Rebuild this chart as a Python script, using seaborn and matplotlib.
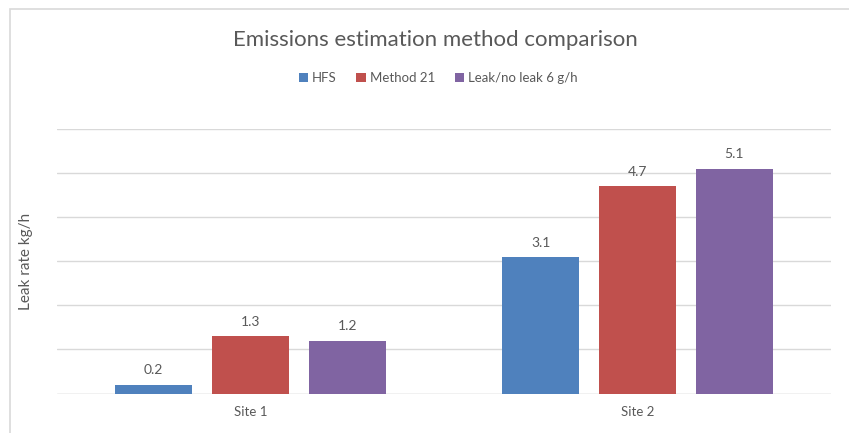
import matplotlib
matplotlib.use("Agg")
import matplotlib.pyplot as plt
import seaborn as sns
import pandas as pd
from matplotlib.patches import Rectangle

# Data
sites = ["Site 1", "Site 2"]
methods = ["HFS", "Method 21", "Leak/no leak 6 g/h"]
hfs = [0.2, 3.1]
method21 = [1.3, 4.7]
leak_no_leak = [1.2, 5.1]
colors = ["#4F81BD", "#C0504D", "#8064A2"]

df = pd.DataFrame({
    "Site": sites * 3,
    "Method": [m for m in methods for _ in sites],
    "Rate": hfs + method21 + leak_no_leak,
})

sns.set_theme(style="white")
plt.rcParams["font.family"] = ["Lato", "DejaVu Sans"]
text_color = "#595959"

fig = plt.figure(figsize=(8.49, 4.33), dpi=100)
ax = fig.add_axes([57 / 849, 1 - 393.5 / 433, (831 - 57) / 849, (393.5 - 129) / 433])

sns.barplot(data=df, x="Site", y="Rate", hue="Method", order=sites,
            hue_order=methods, palette=colors, width=0.75, gap=0.2,
            saturation=1, ax=ax, legend=True, linewidth=0)

ax.set_xlim(-0.5, 1.5)
ax.set_ylim(0, 6)
ax.set_yticks(range(0, 7))
ax.set_yticklabels([])
ax.tick_params(axis="y", length=0)
ax.tick_params(axis="x", length=0, colors=text_color, labelsize=9.5, pad=9)
ax.yaxis.grid(True, color="#D9D9D9", linewidth=1)
ax.set_axisbelow(True)
for s in ax.spines.values():
    s.set_visible(False)
ax.axhline(0, color="#D9D9D9", linewidth=1, zorder=0.5)
ax.set_xlabel("")
ax.set_ylabel("Leak rate kg/h", color=text_color, fontsize=11, labelpad=14)

for cont in ax.containers:
    ax.bar_label(cont, fmt="%.1f", padding=6, color=text_color, fontsize=10)

handles, labels = ax.get_legend_handles_labels()
ax.legend_.remove()
fig.legend(handles, labels, loc="center", bbox_to_anchor=(438 / 849, 1 - 78 / 433),
           ncol=3, frameon=False, fontsize=9.5, labelcolor=text_color,
           handlelength=0.7, handleheight=0.7, handletextpad=0.3, columnspacing=1.5)

fig.text(435 / 849, 1 - 40 / 433, "Emissions estimation method comparison",
         ha="center", va="center", fontsize=16, color=text_color)

# Chart area border
fig.patches.append(Rectangle((10 / 849, -0.05), 1.1, 1 - 9 / 433 + 0.05,
                             transform=fig.transFigure, fill=False,
                             edgecolor="#D9D9D9", linewidth=1.2))

fig.savefig("out.png", dpi=100)
